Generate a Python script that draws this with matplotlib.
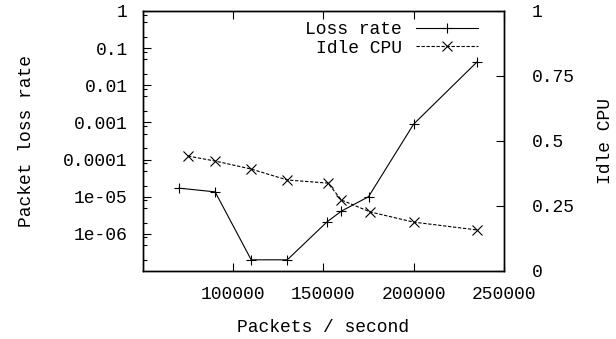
import matplotlib
matplotlib.use("Agg")
import matplotlib.pyplot as plt
from matplotlib.ticker import FixedLocator, NullFormatter

# data
loss_pps = [70000, 90000, 110000, 130000, 152000, 160000, 175000, 200000, 235000]
loss_rate = [1.7e-5, 1.35e-5, 2e-7, 2e-7, 2.1e-6, 4.1e-6, 1.0e-5, 9e-4, 0.042]

idle_pps = [75000, 90000, 110000, 130000, 152500, 160000, 176000, 200000, 235000]
idle_cpu = [0.442, 0.423, 0.392, 0.35, 0.338, 0.273, 0.227, 0.188, 0.158]

x_ticks = [100000, 150000, 200000, 250000]
y_ticks = [1e-6, 1e-5, 1e-4, 1e-3, 1e-2, 1e-1, 1]
y_labels = ["1e-06", "1e-05", "0.0001", "0.001", "0.01", "0.1", "1"]
y2_ticks = [0, 0.25, 0.5, 0.75, 1]
y2_labels = ["0", "0.25", "0.5", "0.75", "1"]

plt.rcParams['font.family'] = ['Liberation Mono', 'DejaVu Sans Mono']
plt.rcParams['font.size'] = 13

fig = plt.figure(figsize=(6.16, 3.39), dpi=100)
ax = fig.add_axes([0.232, 0.2006, 0.586, 0.767])
ax2 = ax.twinx()

l1, = ax.plot(loss_pps, loss_rate, color='black', lw=0.8, marker='+', ms=7.5, mew=0.8)
l2, = ax2.plot(idle_pps, idle_cpu, color='black', lw=0.8, ls=(0, (3, 1.5)),
               marker='x', ms=6.5, mew=0.8)

ax.set_yscale('log')
ax.set_ylim(1e-7, 1)
ax.set_xlim(50000, 250000)
ax2.set_ylim(0, 1)

ax.set_xticks(x_ticks)
ax.set_xticklabels([str(v) for v in x_ticks])
ax.set_yticks(y_ticks)
ax.set_yticklabels(y_labels)
ax.yaxis.set_minor_locator(FixedLocator(
    [m * 10.0 ** e for e in range(-7, 0) for m in (2, 5, 8)]))
ax.yaxis.set_minor_formatter(NullFormatter())
ax2.set_yticks(y2_ticks)
ax2.set_yticklabels(y2_labels)

ax.tick_params(axis='x', direction='in', top=True, length=6, width=0.8, pad=11)
ax.tick_params(axis='y', which='major', direction='in', right=False, length=6, width=0.8, pad=11)
ax.tick_params(axis='y', which='minor', direction='in', right=False, length=3, width=0.8)
ax2.tick_params(axis='y', direction='in', length=6, width=0.8, pad=20)

for a in (ax, ax2):
    for s in a.spines.values():
        s.set_linewidth(1.0)

ax.set_xlabel("Packets / second", labelpad=11)
ax.set_ylabel("Packet loss rate", labelpad=20)
ax2.set_ylabel("Idle CPU", labelpad=16)

leg = ax2.legend([l1, l2], ["Loss rate", "Idle CPU"], loc='upper right',
                 frameon=False, markerfirst=False, handlelength=3.4,
                 bbox_to_anchor=(0.955, 1.0), borderaxespad=0.15,
                 labelspacing=0.1, handletextpad=0.8)

fig.savefig("out.png", dpi=100)
